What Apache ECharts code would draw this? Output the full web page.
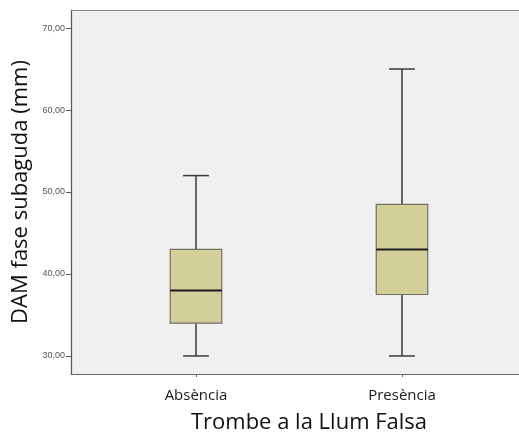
<!DOCTYPE html>
<html>
<head>
<meta charset="utf-8">
<script src="https://cdn.jsdelivr.net/npm/echarts@6/dist/echarts.min.js"></script>
<style>
  html, body { margin: 0; padding: 0; background: #ffffff; }
  #chart { width: 519px; height: 434px; }
</style>
</head>
<body>
<div id="chart"></div>
<script>
// Box plot summary for each group
const categories = ['Absència', 'Presència'];
const lowerWhisker = [30, 30];
const quartile1 = [34, 37.5];
const medians = [38, 43];
const quartile3 = [43, 48.5];
const upperWhisker = [52, 65];
const yTickValues = [30, 40, 50, 60, 70];

const boxData = categories.map((c, i) => [
  i, lowerWhisker[i], quartile1[i], medians[i], quartile3[i], upperWhisker[i]
]);

const yMin = 27.8, yMax = 72.2;
const gridTop = 10, gridBottom = 60;

function renderBox(params, api) {
  const x = api.value(0);
  const lo = api.coord([x, api.value(1)]);
  const b1 = api.coord([x, api.value(2)]);
  const md = api.coord([x, api.value(3)]);
  const b3 = api.coord([x, api.value(4)]);
  const hi = api.coord([x, api.value(5)]);
  const boxW = api.size([1, 0])[0] * 0.25;
  const capW = boxW / 2;
  const cx = hi[0];
  const whiskerStyle = { stroke: '#3a3a3a', lineWidth: 1.5 };
  return {
    type: 'group',
    children: [
      { type: 'line', shape: { x1: cx, y1: hi[1], x2: cx, y2: b3[1] }, style: whiskerStyle },
      { type: 'line', shape: { x1: cx, y1: b1[1], x2: cx, y2: lo[1] }, style: whiskerStyle },
      { type: 'line', shape: { x1: cx - capW / 2, y1: hi[1], x2: cx + capW / 2, y2: hi[1] }, style: whiskerStyle },
      { type: 'line', shape: { x1: cx - capW / 2, y1: lo[1], x2: cx + capW / 2, y2: lo[1] }, style: whiskerStyle },
      { type: 'rect', shape: { x: cx - boxW / 2, y: b3[1], width: boxW, height: b1[1] - b3[1] },
        style: { fill: '#D3CF99', stroke: '#6f6f66', lineWidth: 1.2 } },
      { type: 'line', shape: { x1: cx - boxW / 2, y1: md[1], x2: cx + boxW / 2, y2: md[1] },
        style: { stroke: '#1a1a1a', lineWidth: 2 } }
    ]
  };
}

const chart = echarts.init(document.getElementById('chart'), null, { renderer: 'canvas' });
chart.setOption({
  animation: false,
  backgroundColor: '#ffffff',
  grid: [
    // plot frame runs past the right edge of the canvas
    { left: 71, width: 470, top: gridTop, bottom: gridBottom, show: true, outerBoundsMode: 'none',
      backgroundColor: '#F0F0F0', borderWidth: 0 },
    { left: 93, width: 412, top: gridTop, bottom: gridBottom, show: false, outerBoundsMode: 'none' }
  ],
  xAxis: [
    { gridIndex: 0, type: 'value', min: 0, max: 1,
      axisLine: { show: true, lineStyle: { color: '#666666', width: 1.2 } },
      axisTick: { show: false }, axisLabel: { show: false }, splitLine: { show: false } },
    { gridIndex: 1, type: 'category', data: categories, boundaryGap: true,
      axisLine: { show: false },
      axisTick: { show: true, alignWithLabel: true, length: 3, lineStyle: { color: '#666666' } },
      axisLabel: { fontFamily: 'Open Sans', fontSize: 15, color: '#1a1a1a', margin: 14 },
      name: 'Trombe a la Llum Falsa', nameLocation: 'middle', nameGap: 38,
      nameTextStyle: { fontFamily: 'Open Sans', fontSize: 22, color: '#111111', padding: [0, 0, 0, 20] } },
    // top edge of the plot frame
    { gridIndex: 0, type: 'value', position: 'top', min: 0, max: 1,
      axisLine: { show: true, lineStyle: { color: '#8a8a8a', width: 1.2 } },
      axisTick: { show: false }, axisLabel: { show: false }, splitLine: { show: false } }
  ],
  yAxis: [
    { gridIndex: 0, type: 'value', min: yMin, max: yMax,
      axisLine: { show: true, lineStyle: { color: '#555555', width: 1.2 } },
      axisTick: { show: true, length: 5, customValues: yTickValues, lineStyle: { color: '#555555' } },
      axisLabel: { customValues: yTickValues, fontFamily: 'Liberation Sans', fontSize: 9, color: '#555555', margin: 6,
        formatter: v => v.toFixed(2).replace('.', ',') },
      splitLine: { show: false },
      name: 'DAM fase subaguda (mm)', nameLocation: 'middle', nameGap: 36,
      nameTextStyle: { fontFamily: 'Open Sans', fontSize: 22, color: '#111111' } },
    { gridIndex: 1, type: 'value', min: yMin, max: yMax, show: false,
      axisLine: { show: false }, axisTick: { show: false }, axisLabel: { show: false }, splitLine: { show: false } }
  ],
  series: [
    { type: 'custom', xAxisIndex: 1, yAxisIndex: 1, data: boxData,
      encode: { x: 0, y: [1, 2, 3, 4, 5] }, renderItem: renderBox, z: 5 }
  ]
});
</script>
</body>
</html>
